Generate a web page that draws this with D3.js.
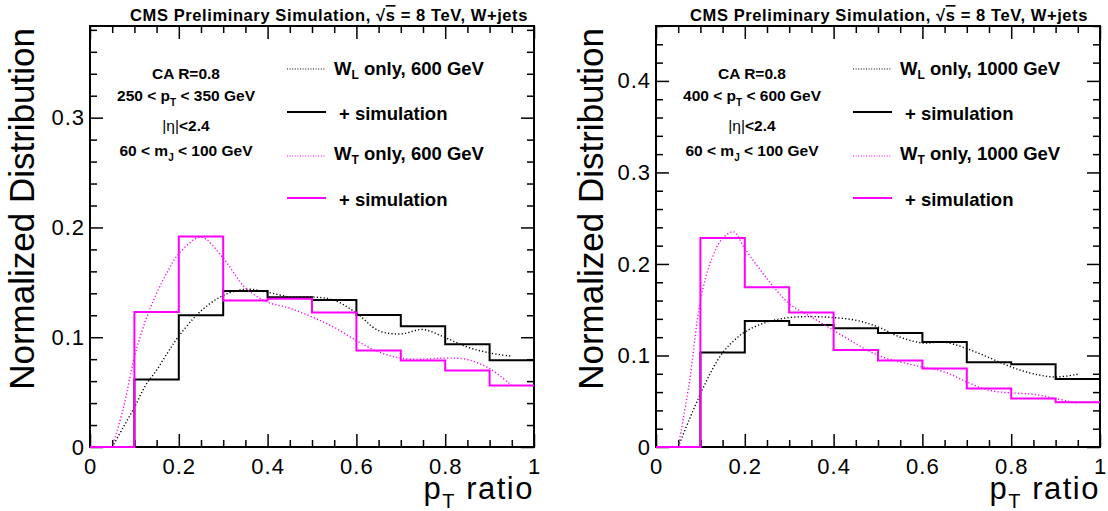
<!DOCTYPE html>
<html>
<head>
<meta charset="utf-8">
<script src="https://cdn.jsdelivr.net/npm/d3@7"></script>
<style>
  html, body { margin: 0; padding: 0; background: #fff; }
  svg { display: block; font-family: "Liberation Sans", Arial, Helvetica, sans-serif; }
</style>
</head>
<body>
<svg id="chart" width="1108" height="511"></svg>
<script>
// ---- binning and axis ticks ----
const binEdges = [0, 0.1, 0.2, 0.3, 0.4, 0.5, 0.6, 0.7, 0.8, 0.9, 1.0];
const xMajorTicks = [0, 0.2, 0.4, 0.6, 0.8, 1];
const xMinorTicks = [0.05, 0.1, 0.15, 0.25, 0.3, 0.35, 0.45, 0.5, 0.55, 0.65, 0.7, 0.75, 0.85, 0.9, 0.95];

// ---- 600 GeV, 250 < pT < 350 GeV ----
const yMax600 = 0.3835;
const yMajorTicks600 = [0, 0.1, 0.2, 0.3];
const simWL600 = [0, 0.0614, 0.120, 0.142, 0.1365, 0.134, 0.1203, 0.110, 0.0936, 0.079];
const simWT600 = [0, 0.123, 0.1918, 0.1335, 0.135, 0.1225, 0.0879, 0.0788, 0.0697, 0.056];
const curveX = [0.05, 0.075, 0.1, 0.125, 0.15, 0.175, 0.2, 0.25, 0.3, 0.35, 0.4, 0.45, 0.5,
                0.55, 0.6, 0.65, 0.7, 0.75, 0.8, 0.85, 0.9, 0.95];
const onlyWL600 = [0, 0.018, 0.036, 0.056, 0.070, 0.086, 0.101, 0.124, 0.138, 0.1437, 0.141, 0.1367,
                   0.1367, 0.1337, 0.122, 0.106, 0.103, 0.107, 0.0997, 0.091, 0.0857, 0.0827];
const onlyWT600 = [0, 0.035, 0.082, 0.115, 0.140, 0.160, 0.176, 0.191, 0.172, 0.145, 0.132, 0.1264,
                   0.1185, 0.109, 0.097, 0.0866, 0.081, 0.080, 0.081, 0.0797, 0.0714, 0.056];

// ---- 1000 GeV, 400 < pT < 600 GeV ----
const yMax1000 = 0.46;
const yMajorTicks1000 = [0, 0.1, 0.2, 0.3, 0.4];
const simWL1000 = [0, 0.1032, 0.1377, 0.1333, 0.1297, 0.1246, 0.1148, 0.0926, 0.0904, 0.0743];
const simWT1000 = [0, 0.2284, 0.1745, 0.1469, 0.106, 0.0944, 0.0857, 0.0638, 0.0529, 0.0488];
const onlyWL1000 = [0, 0.030, 0.058, 0.083, 0.103, 0.116, 0.1257, 0.1366, 0.1414, 0.1425, 0.1414, 0.1385,
                    0.1312, 0.120, 0.1137, 0.1145, 0.1075, 0.0977, 0.0874, 0.080, 0.0765, 0.0795];
const onlyWT1000 = [0, 0.070, 0.160, 0.205, 0.228, 0.235, 0.2168, 0.184, 0.1567, 0.142, 0.1275, 0.113,
                    0.100, 0.0929, 0.0874, 0.082, 0.071, 0.062, 0.059, 0.0576, 0.0529, 0.0478];

const MAGENTA = "#ff00ff";
const svg = d3.select("#chart");

const panels = [
  { x0: 90, x1: 534, top: 26, bottom: 447, yMax: yMax600, yTicks: yMajorTicks600,
    simWL: simWL600, simWT: simWT600, onlyWL: onlyWL600, onlyWT: onlyWT600,
    mass: "600", ptLow: "250", ptHigh: "350", titleEnd: 528, yTitleX: 34 },
  { x0: 656, x1: 1100, top: 26, bottom: 447, yMax: yMax1000, yTicks: yMajorTicks1000,
    simWL: simWL1000, simWT: simWT1000, onlyWL: onlyWL1000, onlyWT: onlyWT1000,
    mass: "1000", ptLow: "400", ptHigh: "600", titleEnd: 1088, yTitleX: 603 }
];

panels.forEach(drawPanel);

function minorY(yMax) {
  const out = [];
  for (let i = 1; i * 0.02 <= yMax + 1e-9; i++) {
    if (i % 5 !== 0) out.push(+(i * 0.02).toFixed(2));
  }
  return out;
}

function styleAxis(g) {
  g.attr("font-size", null).attr("font-family", null);
  g.select(".domain").remove();
  g.selectAll(".tick line").attr("stroke", "#000").attr("stroke-width", 1.5);
  g.selectAll(".tick text").attr("fill", "#000").style("font-size", "22px").style("letter-spacing", "1px");
}

function drawPanel(p) {
  const g = svg.append("g");
  const x = d3.scaleLinear().domain([0, 1]).range([p.x0, p.x1]);
  const y = d3.scaleLinear().domain([0, p.yMax]).range([p.bottom, p.top]);
  const fmt = d => (d === 0 ? "0" : d3.format("~g")(d));

  // frame
  g.append("rect")
    .attr("x", p.x0).attr("y", p.top)
    .attr("width", p.x1 - p.x0).attr("height", p.bottom - p.top)
    .attr("fill", "none").attr("stroke", "#000").attr("stroke-width", 2);

  // x axis: bottom (labelled) and top (ticks only)
  g.append("g").attr("transform", `translate(0,${p.bottom})`)
    .call(d3.axisBottom(x).tickValues(xMajorTicks).tickSize(-13).tickPadding(11).tickFormat(fmt))
    .call(styleAxis);
  g.append("g").attr("transform", `translate(0,${p.bottom})`)
    .call(d3.axisBottom(x).tickValues(xMinorTicks).tickSize(-7).tickFormat(""))
    .call(styleAxis);
  g.append("g").attr("transform", `translate(0,${p.top})`)
    .call(d3.axisTop(x).tickValues(xMajorTicks).tickSize(-13).tickFormat(""))
    .call(styleAxis);
  g.append("g").attr("transform", `translate(0,${p.top})`)
    .call(d3.axisTop(x).tickValues(xMinorTicks).tickSize(-7).tickFormat(""))
    .call(styleAxis);

  // y axis: left (labelled) and right (ticks only)
  g.append("g").attr("transform", `translate(${p.x0},0)`)
    .call(d3.axisLeft(y).tickValues(p.yTicks).tickSize(-13).tickPadding(5).tickFormat(fmt))
    .call(styleAxis);
  g.append("g").attr("transform", `translate(${p.x0},0)`)
    .call(d3.axisLeft(y).tickValues(minorY(p.yMax)).tickSize(-7).tickFormat(""))
    .call(styleAxis);
  g.append("g").attr("transform", `translate(${p.x1},0)`)
    .call(d3.axisRight(y).tickValues(p.yTicks).tickSize(-13).tickFormat(""))
    .call(styleAxis);
  g.append("g").attr("transform", `translate(${p.x1},0)`)
    .call(d3.axisRight(y).tickValues(minorY(p.yMax)).tickSize(-7).tickFormat(""))
    .call(styleAxis);

  // histograms as step outlines, analytic shapes as dotted curves
  const step = d3.line().x(d => x(d[0])).y(d => y(d[1])).curve(d3.curveStepAfter);
  const stepPts = vals => binEdges.map((e, i) => [e, vals[Math.min(i, vals.length - 1)]]);
  const smooth = d3.line().x(d => x(d[0])).y(d => y(d[1])).curve(d3.curveCatmullRom.alpha(0.5));
  const curvePts = vals => curveX.map((cx, i) => [cx, vals[i]]);

  g.append("path").attr("d", smooth(curvePts(p.onlyWL)))
    .attr("fill", "none").attr("stroke", "#000").attr("stroke-width", 1.4)
    .attr("stroke-dasharray", "1.2 2.2");
  g.append("path").attr("d", step(stepPts(p.simWL)))
    .attr("fill", "none").attr("stroke", "#000").attr("stroke-width", 2);
  g.append("path").attr("d", smooth(curvePts(p.onlyWT)))
    .attr("fill", "none").attr("stroke", MAGENTA).attr("stroke-width", 1.4)
    .attr("stroke-dasharray", "1.2 2.2");
  g.append("path").attr("d", step(stepPts(p.simWT)))
    .attr("fill", "none").attr("stroke", MAGENTA).attr("stroke-width", 2);

  // header
  const title = g.append("text")
    .attr("x", p.titleEnd).attr("y", 21).attr("text-anchor", "end")
    .attr("font-weight", "bold").attr("font-size", 16.5).style("letter-spacing", "0.6px");
  title.append("tspan").text("CMS Preliminary Simulation, \u221A");
  title.append("tspan").style("text-decoration", "overline").text("s");
  title.append("tspan").text(" = 8 TeV, W+jets");

  // axis titles
  g.append("text")
    .attr("transform", `translate(${p.yTitleX},28) rotate(-90)`)
    .attr("text-anchor", "end").attr("font-size", 35)
    .text("Normalized Distribution");
  const xt = g.append("text")
    .attr("x", p.x1).attr("y", 499).attr("text-anchor", "end").attr("font-size", 31)
    .style("letter-spacing", "1.5px");
  xt.append("tspan").text("p");
  xt.append("tspan").attr("font-size", 20).attr("dy", 9).text("T");
  xt.append("tspan").attr("dy", -9).text(" ratio");

  // selection text block
  const cx = p.x0 + 96;
  const info = g.append("g").attr("font-weight", "bold").attr("font-size", 15.5).attr("text-anchor", "middle");
  info.append("text").attr("x", cx).attr("y", 79).text("CA R=0.8");
  const pt = info.append("text").attr("x", cx).attr("y", 101);
  pt.append("tspan").text(`${p.ptLow} < p`);
  pt.append("tspan").attr("font-size", 10).attr("dy", 5).text("T");
  pt.append("tspan").attr("dy", -5).text(` < ${p.ptHigh} GeV`);
  const eta = info.append("text").attr("x", cx).attr("y", 131);
  eta.append("tspan").attr("font-weight", "normal").text("|\u03B7|");
  eta.append("tspan").text("<2.4");
  const mj = info.append("text").attr("x", cx).attr("y", 156);
  mj.append("tspan").text("60 < m");
  mj.append("tspan").attr("font-size", 10).attr("dy", 5).text("J");
  mj.append("tspan").attr("dy", -5).text(" < 100 GeV");

  // legend
  const lx0 = p.x0 + 197, lx1 = p.x0 + 236;
  const entries = [
    { sy: 69, ty: 75, color: "#000", dotted: true, main: "W", sub: "L", rest: ` only, ${p.mass} GeV` },
    { sy: 112, ty: 120, color: "#000", dotted: false, main: "+ simulation" },
    { sy: 156, ty: 160, color: MAGENTA, dotted: true, main: "W", sub: "T", rest: ` only, ${p.mass} GeV` },
    { sy: 198, ty: 206, color: MAGENTA, dotted: false, main: "+ simulation" }
  ];
  const leg = g.append("g").attr("font-weight", "bold").attr("font-size", 18.5);
  entries.forEach(e => {
    leg.append("line").attr("x1", lx0).attr("x2", lx1).attr("y1", e.sy).attr("y2", e.sy)
      .attr("stroke", e.color).attr("stroke-width", e.dotted ? 1.2 : 2)
      .attr("stroke-dasharray", e.dotted ? "1 1.6" : null);
    const t = leg.append("text").attr("x", e.sub ? p.x0 + 244 : p.x0 + 249).attr("y", e.ty);
    t.append("tspan").text(e.main);
    if (e.sub) {
      t.append("tspan").attr("font-size", 12).attr("dy", 4).text(e.sub);
      t.append("tspan").attr("dy", -4).text(e.rest);
    }
  });
}
</script>
</body>
</html>
